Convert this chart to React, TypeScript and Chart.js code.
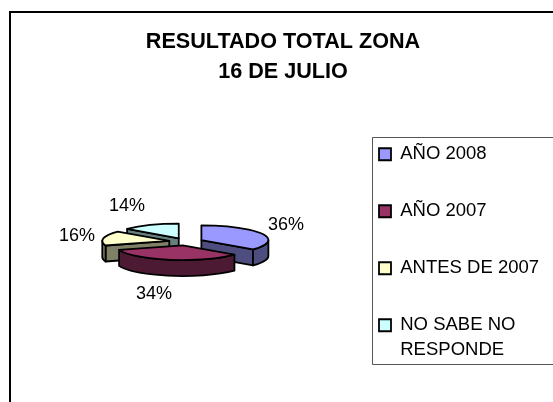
import React, { useEffect, useRef } from "react";
import { Chart, registerables } from "chart.js";

Chart.register(...registerables);

const categories: (string | string[])[] = ["AÑO 2008", "AÑO 2007", "ANTES DE 2007", ["NO SABE NO", "RESPONDE"]];
const values = [36, 34, 16, 14];
const percentLabels = ["36%", "34%", "16%", "14%"];
const topColors = ["#9999FF", "#993366", "#FFFFCC", "#CCFFFF"];
const sideColors = ["#4D4D80", "#4D1A33", "#808066", "#668080"];
const titleLines = ["RESULTADO TOTAL ZONA", "16 DE JULIO"];

const FONT = "'Liberation Sans', Arial, sans-serif";
const TILT = 0.22;
const DEPTH = 16;
const LABEL_OFFSETS = [[100, -17], [-32, 52], [-109, -6], [-59, -36]];

const framePlugin = {
  id: "frame",
  beforeDraw(chart: any) {
    const ctx = chart.ctx;
    ctx.save();
    ctx.fillStyle = "#fff";
    ctx.fillRect(0, 0, 553, 402);
    ctx.strokeStyle = "#000";
    ctx.lineWidth = 2;
    ctx.beginPath();
    ctx.moveTo(10, 403);
    ctx.lineTo(10, 12);
    ctx.lineTo(554, 12);
    ctx.stroke();
    ctx.strokeStyle = "#555";
    ctx.lineWidth = 1;
    ctx.beginPath();
    ctx.moveTo(554, 137.5);
    ctx.lineTo(372.5, 137.5);
    ctx.lineTo(372.5, 364.5);
    ctx.lineTo(554, 364.5);
    ctx.stroke();
    ctx.restore();
    if (chart.titleBlock) {
      chart.titleBlock.left = 0;
      chart.titleBlock.right = 566;
    }
    if (chart.legend) {
      const p = chart.options.plugins.legend.labels.padding;
      chart.legend.left = 379 - p;
      chart.legend.right = 560;
      const dy = 145 - p - chart.legend.top;
      chart.legend.top += dy;
      chart.legend.bottom += dy;
    }
  },
};

const pie3dPlugin = {
  id: "pie3d",
  beforeDatasetDraw(chart: any) {
    const ctx = chart.ctx;
    const arcs = chart.getDatasetMeta(0).data;
    const order = arcs
      .map((_: any, i: number) => i)
      .sort((a: number, b: number) => {
        const mid = (e: any) => (e.startAngle + e.endAngle) / 2;
        return Math.sin(mid(arcs[a])) - Math.sin(mid(arcs[b]));
      });
    ctx.save();
    ctx.lineWidth = 1.8;
    ctx.strokeStyle = "#000";
    ctx.lineJoin = "round";
    for (const i of order) {
      const e = arcs[i];
      const a0 = e.startAngle;
      const a1 = e.endAngle;
      const r = e.outerRadius;
      const mid = (a0 + a1) / 2;
      const off = e.options.offset;
      const cx = e.x + off * Math.cos(mid);
      const cy = e.y + off * TILT * Math.sin(mid);
      const ry = r * TILT;
      const px = (a: number) => cx + r * Math.cos(a);
      const py = (a: number) => cy + ry * Math.sin(a);
      const wall = (a: number) => {
        ctx.beginPath();
        ctx.moveTo(cx, cy);
        ctx.lineTo(px(a), py(a));
        ctx.lineTo(px(a), py(a) + DEPTH);
        ctx.lineTo(cx, cy + DEPTH);
        ctx.closePath();
        ctx.fillStyle = sideColors[i];
        ctx.fill();
        ctx.stroke();
      };
      if (Math.cos(a0) < -1e-6) wall(a0);
      if (Math.cos(a1) > 1e-6) wall(a1);
      const f0 = Math.max(a0, 0);
      const f1 = Math.min(a1, Math.PI);
      if (f1 > f0) {
        ctx.beginPath();
        ctx.ellipse(cx, cy, r, ry, 0, f0, f1);
        ctx.lineTo(px(f1), py(f1) + DEPTH);
        ctx.ellipse(cx, cy + DEPTH, r, ry, 0, f1, f0, true);
        ctx.closePath();
        ctx.fillStyle = sideColors[i];
        ctx.fill();
        ctx.stroke();
      }
      ctx.beginPath();
      ctx.moveTo(cx, cy);
      ctx.ellipse(cx, cy, r, ry, 0, a0, a1);
      ctx.closePath();
      ctx.fillStyle = e.options.backgroundColor;
      ctx.fill();
      ctx.stroke();
    }
    ctx.fillStyle = "#000";
    ctx.font = `18px ${FONT}`;
    ctx.textAlign = "center";
    ctx.textBaseline = "middle";
    arcs.forEach((e: any, i: number) => {
      ctx.fillText(percentLabels[i], e.x + LABEL_OFFSETS[i][0], e.y + LABEL_OFFSETS[i][1]);
    });
    ctx.restore();
    return false;
  },
};

export default function App() {
  const ref = useRef<HTMLCanvasElement>(null);
  useEffect(() => {
    const chart = new Chart(ref.current!, {
      type: "pie",
      data: {
        labels: categories as any,
        datasets: [{ data: values, backgroundColor: topColors, offset: 17, borderWidth: 0, radius: 67 } as any],
      },
      plugins: [framePlugin, pie3dPlugin],
      options: {
        animation: false,
        responsive: false,
        layout: { padding: { bottom: 6 } },
        plugins: {
          tooltip: { enabled: false },
          title: {
            display: true,
            text: titleLines,
            color: "#000",
            font: { family: FONT, size: 21.6, weight: "bold", lineHeight: 30.5 / 21.6 },
            padding: { top: 26.3, bottom: 0 },
          },
          legend: {
            position: "right",
            align: "start",
            maxWidth: 181,
            labels: {
              color: "#000",
              font: { family: FONT, size: 18.5, lineHeight: 25 / 18.5 },
              boxWidth: 12,
              boxHeight: 12,
              padding: 38.5,
              generateLabels: () =>
                categories.map((text, i) => ({
                  text: text as any,
                  fillStyle: topColors[i],
                  strokeStyle: "#000",
                  lineWidth: 1.8,
                  hidden: false,
                  index: i,
                })),
            },
          },
        },
      } as any,
    });
    return () => chart.destroy();
  }, []);
  return (
    <div style={{ position: "fixed", left: 0, top: 0, width: 553, height: 402, overflow: "hidden" }}>
      <canvas ref={ref} width={553} height={402} style={{ display: "block" }} />
    </div>
  );
}
